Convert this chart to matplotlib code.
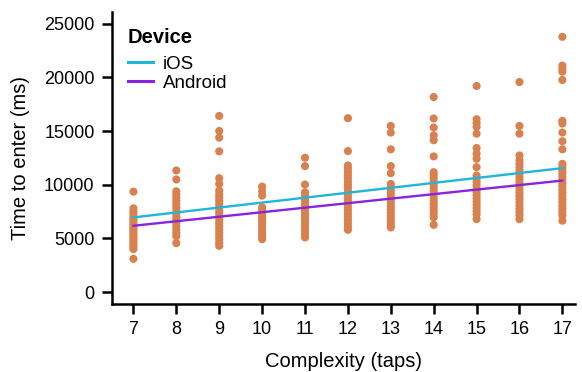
import matplotlib
matplotlib.use("Agg")
import matplotlib.pyplot as plt

plt.rcParams['font.family'] = ['Liberation Sans', 'DejaVu Sans']

complexity = [7, 8, 9, 10, 11, 12, 13, 14, 15, 16, 17]
times = {
    7: [9360, 7800, 7500, 7300, 7000, 6800, 6600, 6400, 6200, 6000, 5800, 5600, 5400, 5200, 5000, 4800, 4600, 4400, 4200, 4000, 3100],
    8: [11330, 10490, 9390, 9100, 8800, 8500, 8200, 7900, 7600, 7300, 7000, 6700, 6400, 6100, 5800, 5500, 5200, 4560],
    9: [16410, 15010, 14390, 13110, 10610, 10080, 9460, 9100, 8800, 8500, 8200, 7900, 7600, 7300, 7000, 6700, 6400, 6100, 5800, 5500, 5200, 4900, 4600, 4310],
    10: [9830, 9400, 8990, 7900, 7600, 7300, 7000, 6700, 6400, 6100, 5800, 5500, 5200, 4930],
    11: [12520, 11740, 10020, 9300, 9000, 8700, 8400, 8100, 7800, 7500, 7200, 6900, 6600, 6300, 6000, 5700, 5400, 5090],
    12: [16200, 13140, 11800, 11500, 11200, 10900, 10600, 10300, 10000, 9700, 9400, 9100, 8800, 8500, 8200, 7900, 7600, 7300, 7000, 6700, 6400, 6100, 5800],
    13: [15480, 14860, 13300, 11740, 11080, 10080, 9800, 9500, 9200, 8900, 8600, 8300, 8000, 7700, 7400, 7100, 6800, 6500, 6200, 6020],
    14: [18170, 16170, 15330, 14600, 14140, 12640, 11170, 10900, 10600, 10300, 10000, 9700, 9400, 9100, 8800, 8500, 8200, 7900, 7600, 7300, 6960, 6270],
    15: [19200, 16100, 15750, 15390, 14760, 13420, 12900, 12420, 11640, 10860, 10550, 10250, 9950, 9650, 9350, 9050, 8750, 8450, 8150, 7850, 7550, 7250, 6800],
    16: [19570, 15480, 14760, 12730, 12270, 11950, 11650, 11350, 11050, 10750, 10450, 10150, 9850, 9550, 9250, 8950, 8650, 8350, 8050, 7750, 7450, 7150, 6800],
    17: [23780, 21100, 20800, 20530, 19760, 15950, 15700, 14860, 14050, 13300, 11950, 11650, 11350, 11050, 10750, 10450, 10150, 9850, 9550, 9250, 8950, 8650, 8350, 8050, 7750, 7450, 7150, 6650],
}
fit_x = [7, 17]
ios_fit = [6960, 11550]
android_fit = [6180, 10390]
y_ticks = [0, 5000, 10000, 15000, 20000, 25000]

fig = plt.figure(figsize=(5.82, 3.72), dpi=100)
ax = fig.add_axes([0.1924, 0.183, 0.796, 0.785])

for c in complexity:
    ax.scatter([c] * len(times[c]), times[c], s=34, color='#D9804F', edgecolors='none', zorder=2)

ax.plot(fit_x, ios_fit, color='#22B5DA', lw=1.7, label='iOS', zorder=3)
ax.plot(fit_x, android_fit, color='#8A22E0', lw=1.7, label='Android', zorder=3)

ax.set_xlim(6.5, 17.3)
ax.set_ylim(-1100, 26100)
ax.set_xticks(complexity)
ax.set_yticks(y_ticks)
ax.tick_params(labelsize=13, length=7.5, width=1.8, color='black', pad=5)
for s in ['top', 'right']:
    ax.spines[s].set_visible(False)
for s in ['left', 'bottom']:
    ax.spines[s].set_linewidth(1.8)

ax.set_xlabel('Complexity (taps)', fontsize=14.5, labelpad=10)
ax.set_ylabel('Time to enter (ms)', fontsize=14.5, labelpad=10)

leg = ax.legend(title='Device', loc='upper left', frameon=False, fontsize=13.5,
                title_fontproperties={'weight': 'bold', 'size': 14.5},
                handlelength=1.35, borderaxespad=0.45, labelspacing=0.1, handletextpad=0.5,
                bbox_to_anchor=(0.0, 1.0))
leg._legend_box.align = 'left'
leg._legend_box.sep = 6.5
for h in leg.get_lines():
    h.set_linewidth(2.2)

fig.savefig('out.png', dpi=100)
